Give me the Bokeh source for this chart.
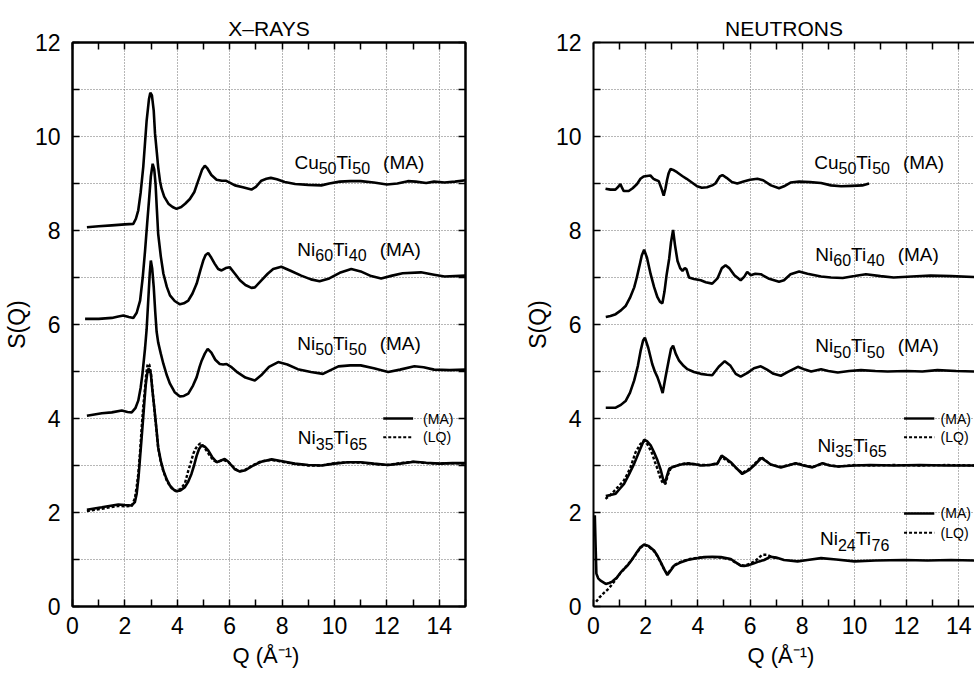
from bokeh.plotting import figure
from bokeh.layouts import row
from bokeh.models import FixedTicker, LinearAxis, Range1d
from bokeh.core.properties import value
from bokeh.embed import file_html
from bokeh.resources import INLINE

# ---------------- data (Q in 1/Angstrom, S(Q) with vertical offsets as plotted) ----------------
x_tick_labels = [0, 2, 4, 6, 8, 10, 12, 14]
x_minor = [1, 3, 5, 7, 9, 11, 13, 15]
y_tick_labels = [0, 2, 4, 6, 8, 10, 12]
y_minor = [1, 3, 5, 7, 9, 11]

xray_cu50ti50_ma = [(0.55,8.07),(1.0,8.09),(1.5,8.11),(2.0,8.13),(2.32,8.14),(2.42,8.25),(2.51,8.43),(2.6,8.8),(2.7,9.35),(2.83,10.34),(2.92,10.8),(2.97,10.93),(3.03,10.88),(3.1,10.55),(3.15,10.06),(3.22,9.65),(3.27,9.35),(3.34,9.05),(3.4,8.89),(3.5,8.72),(3.66,8.57),(3.82,8.5),(3.97,8.46),(4.15,8.5),(4.3,8.57),(4.48,8.67),(4.65,8.82),(4.8,9.06),(4.95,9.3),(5.05,9.38),(5.15,9.32),(5.3,9.18),(5.5,9.08),(5.7,9.06),(5.85,9.06),(6.0,9.02),(6.2,8.96),(6.5,8.92),(6.83,8.87),(7.0,8.93),(7.21,9.06),(7.4,9.1),(7.57,9.12),(7.8,9.09),(8.1,9.03),(8.5,8.99),(9.0,8.97),(9.5,8.96),(9.8,9.0),(10.2,9.04),(10.6,9.05),(11.0,9.05),(11.5,9.02),(12.0,8.98),(12.4,9.0),(12.8,9.05),(13.1,9.04),(13.5,9.01),(13.8,9.04),(14.2,9.02),(14.6,9.04),(15.0,9.07)]

xray_ni60ti40_ma = [(0.48,6.12),(1.0,6.12),(1.5,6.14),(1.75,6.17),(1.94,6.19),(2.15,6.16),(2.32,6.14),(2.45,6.25),(2.58,6.51),(2.68,7.0),(2.77,7.57),(2.85,8.15),(2.92,8.64),(2.99,9.15),(3.06,9.42),(3.12,9.3),(3.17,8.99),(3.22,8.45),(3.27,7.93),(3.37,7.45),(3.47,7.08),(3.6,6.8),(3.72,6.62),(3.9,6.5),(4.1,6.43),(4.25,6.45),(4.42,6.51),(4.58,6.66),(4.74,6.87),(4.88,7.15),(4.99,7.36),(5.08,7.48),(5.18,7.52),(5.3,7.42),(5.43,7.29),(5.56,7.18),(5.69,7.15),(5.85,7.2),(6.0,7.22),(6.2,7.08),(6.39,6.94),(6.6,6.84),(6.83,6.78),(6.96,6.79),(7.21,6.94),(7.45,7.08),(7.66,7.18),(7.97,7.23),(8.3,7.15),(8.73,7.04),(9.1,6.96),(9.43,6.92),(9.8,6.98),(10.2,7.1),(10.64,7.18),(11.0,7.13),(11.4,7.03),(11.78,6.98),(12.2,7.04),(12.6,7.09),(13.3,7.11),(13.8,7.06),(14.2,7.02),(14.6,7.03),(15.0,7.04)]

xray_ni50ti50_ma = [(0.55,4.06),(1.12,4.11),(1.5,4.13),(1.88,4.17),(2.1,4.14),(2.26,4.13),(2.4,4.22),(2.51,4.38),(2.6,4.65),(2.67,4.95),(2.77,5.5),(2.83,5.9),(2.9,6.6),(2.95,7.1),(2.99,7.36),(3.04,7.2),(3.1,6.8),(3.16,6.25),(3.21,5.85),(3.27,5.62),(3.37,5.38),(3.47,5.16),(3.6,4.92),(3.72,4.74),(3.9,4.56),(4.1,4.47),(4.25,4.48),(4.42,4.53),(4.6,4.7),(4.74,4.88),(4.85,5.1),(4.93,5.23),(5.05,5.38),(5.16,5.48),(5.3,5.4),(5.45,5.25),(5.62,5.16),(5.75,5.15),(5.88,5.16),(6.05,5.1),(6.3,4.98),(6.6,4.87),(6.96,4.81),(7.2,4.92),(7.5,5.1),(7.85,5.2),(8.2,5.15),(8.6,5.05),(9.1,4.99),(9.56,4.95),(9.85,5.03),(10.15,5.11),(10.6,5.13),(11.0,5.13),(11.5,5.07),(12.05,4.99),(12.5,5.04),(13.05,5.11),(13.4,5.09),(13.8,5.04),(14.4,5.03),(15.0,5.04)]

xray_ni35ti65_ma = [(0.55,2.06),(1.12,2.11),(1.75,2.17),(2.0,2.16),(2.26,2.15),(2.38,2.22),(2.45,2.40),(2.52,2.75),(2.58,3.18),(2.64,3.6),(2.7,4.03),(2.75,4.4),(2.8,4.74),(2.85,4.95),(2.9,5.06),(2.95,5.03),(2.99,4.95),(3.05,4.6),(3.12,4.24),(3.2,3.8),(3.27,3.39),(3.37,3.1),(3.47,2.89),(3.6,2.7),(3.72,2.57),(3.85,2.49),(3.97,2.45),(4.12,2.47),(4.29,2.54),(4.42,2.66),(4.54,2.82),(4.64,3.0),(4.74,3.21),(4.83,3.35),(4.93,3.43),(5.05,3.4),(5.18,3.32),(5.33,3.18),(5.5,3.07),(5.65,3.1),(5.81,3.14),(5.95,3.08),(6.07,3.0),(6.2,2.92),(6.39,2.87),(6.6,2.9),(6.9,3.0),(7.2,3.08),(7.6,3.13),(8.0,3.09),(8.48,3.04),(9.0,3.01),(9.5,3.0),(10.0,3.04),(10.5,3.07),(11.0,3.07),(11.5,3.04),(12.05,3.01),(12.5,3.04),(13.05,3.08),(13.5,3.06),(14.0,3.04),(14.5,3.05),(15.0,3.05)]

xray_ni35ti65_lq = [(0.55,2.03),(1.12,2.08),(1.75,2.14),(2.0,2.13),(2.26,2.14),(2.38,2.3),(2.45,2.55),(2.51,2.82),(2.58,3.3),(2.64,3.81),(2.7,4.25),(2.77,4.67),(2.82,4.98),(2.87,5.16),(2.93,5.15),(2.99,4.98),(3.05,4.62),(3.12,4.22),(3.2,3.78),(3.27,3.38),(3.37,3.08),(3.47,2.87),(3.6,2.68),(3.72,2.56),(3.85,2.48),(3.97,2.46),(4.12,2.5),(4.29,2.62),(4.42,2.89),(4.52,3.07),(4.61,3.25),(4.7,3.36),(4.79,3.43),(4.88,3.47),(4.98,3.42),(5.1,3.33),(5.25,3.2),(5.4,3.1),(5.55,3.08),(5.75,3.12),(5.95,3.07),(6.1,2.99),(6.25,2.91),(6.4,2.88),(6.6,2.91),(6.9,3.01),(7.2,3.09),(7.6,3.12),(8.0,3.08),(8.5,3.03),(9.0,3.0),(9.5,3.0),(10.0,3.05),(10.5,3.07),(11.0,3.06),(11.5,3.03),(12.0,3.01),(12.5,3.05),(13.0,3.08),(13.5,3.05),(14.0,3.04),(14.5,3.05),(15.0,3.04)]

neut_cu50ti50_ma = [(0.46,8.89),(0.65,8.87),(0.84,8.87),(0.95,8.93),(1.03,8.99),(1.1,8.9),(1.16,8.84),(1.35,8.84),(1.5,8.9),(1.67,8.99),(1.8,9.1),(1.92,9.15),(2.05,9.16),(2.18,9.17),(2.3,9.1),(2.37,9.08),(2.5,9.05),(2.6,8.9),(2.69,8.74),(2.76,8.9),(2.82,9.08),(2.88,9.22),(2.95,9.31),(3.05,9.29),(3.2,9.24),(3.4,9.16),(3.57,9.1),(3.77,9.02),(3.97,8.94),(4.15,8.91),(4.35,8.92),(4.55,8.96),(4.67,9.0),(4.84,9.15),(4.94,9.18),(5.1,9.12),(5.3,9.03),(5.51,9.0),(5.75,9.04),(6.0,9.08),(6.28,9.1),(6.5,9.07),(6.8,8.96),(7.11,8.9),(7.3,8.94),(7.55,9.02),(7.88,9.04),(8.3,9.03),(8.72,9.01),(9.1,8.96),(9.49,8.94),(9.9,8.95),(10.3,8.96),(10.56,9.0)]

neut_ni60ti40_ma = [(0.47,6.16),(0.65,6.18),(0.85,6.22),(1.05,6.3),(1.24,6.40),(1.4,6.57),(1.56,6.79),(1.66,7.0),(1.75,7.22),(1.85,7.47),(1.94,7.59),(2.05,7.42),(2.19,7.07),(2.32,6.8),(2.45,6.58),(2.55,6.48),(2.64,6.45),(2.72,6.7),(2.8,7.05),(2.9,7.4),(2.97,7.75),(3.05,8.01),(3.12,7.7),(3.22,7.35),(3.32,7.2),(3.41,7.14),(3.5,7.2),(3.56,7.18),(3.66,7.0),(3.85,6.97),(4.11,6.94),(4.3,6.9),(4.55,6.87),(4.75,6.98),(4.92,7.2),(5.06,7.26),(5.2,7.2),(5.4,7.05),(5.64,6.94),(5.78,7.02),(5.89,7.12),(6.02,7.05),(6.2,7.08),(6.41,7.07),(6.7,6.98),(7.11,6.91),(7.3,6.94),(7.55,7.07),(7.88,7.13),(8.2,7.08),(8.72,7.02),(9.1,7.0),(9.55,6.99),(10.0,7.03),(10.44,7.07),(11.0,7.03),(11.5,7.0),(12.2,7.02),(12.92,7.04),(13.7,7.03),(14.6,7.01)]

neut_ni50ti50_ma = [(0.47,4.23),(0.85,4.23),(1.05,4.29),(1.24,4.38),(1.4,4.55),(1.56,4.81),(1.7,5.12),(1.81,5.45),(1.9,5.66),(1.97,5.72),(2.1,5.5),(2.25,5.16),(2.35,5.0),(2.45,4.88),(2.55,4.72),(2.65,4.54),(2.75,4.85),(2.88,5.23),(2.97,5.48),(3.05,5.55),(3.15,5.38),(3.28,5.23),(3.45,5.12),(3.6,5.05),(3.85,4.99),(4.11,4.95),(4.35,4.93),(4.55,4.92),(4.8,5.1),(5.03,5.22),(5.25,5.12),(5.45,4.95),(5.64,4.89),(5.9,4.97),(6.15,5.07),(6.41,5.11),(6.65,5.04),(6.9,4.95),(7.18,4.91),(7.45,4.99),(7.83,5.10),(8.1,5.04),(8.34,5.0),(8.72,5.05),(9.0,5.01),(9.36,4.98),(9.8,5.01),(10.25,5.03),(10.8,5.01),(11.27,5.0),(12.0,5.01),(12.6,5.0),(13.18,5.03),(13.9,5.01),(14.6,5.0)]

neut_ni35ti65_ma = [(0.47,2.35),(0.65,2.37),(0.85,2.4),(1.0,2.5),(1.17,2.61),(1.35,2.8),(1.56,3.04),(1.75,3.3),(1.94,3.55),(2.05,3.52),(2.19,3.43),(2.32,3.28),(2.45,3.11),(2.58,2.9),(2.66,2.72),(2.73,2.62),(2.8,2.75),(2.9,2.93),(3.09,2.98),(3.35,3.02),(3.6,3.04),(3.85,3.03),(4.11,3.0),(4.45,3.01),(4.75,3.04),(4.91,3.21),(5.05,3.16),(5.26,3.07),(5.5,2.93),(5.7,2.82),(5.95,2.9),(6.15,3.0),(6.43,3.16),(6.6,3.1),(6.79,3.02),(7.18,2.96),(7.45,3.0),(7.75,3.05),(8.05,3.0),(8.39,2.96),(8.77,3.05),(9.05,3.0),(9.36,2.98),(10.0,3.0),(10.6,3.01),(11.5,3.0),(12.5,3.01),(13.5,3.0),(14.6,3.0)]

neut_ni35ti65_lq = [(0.46,2.29),(0.7,2.4),(0.95,2.55),(1.16,2.68),(1.3,2.82),(1.42,2.96),(1.61,3.28),(1.8,3.46),(1.98,3.53),(2.1,3.42),(2.25,3.25),(2.35,3.08),(2.45,2.93),(2.57,2.72),(2.66,2.62),(2.76,2.61),(2.85,2.8),(2.95,2.93),(3.1,2.98),(3.35,3.03),(3.6,3.05),(3.85,3.03),(4.11,3.01),(4.45,3.01),(4.75,3.05),(4.9,3.18),(5.05,3.13),(5.26,3.05),(5.5,2.93),(5.7,2.84),(5.95,2.92),(6.15,3.02),(6.43,3.18),(6.6,3.1),(6.79,3.02),(7.18,2.97),(7.5,3.01),(7.8,3.05),(8.1,3.0),(8.4,2.97),(8.8,3.04),(9.1,3.0),(9.4,2.98),(10.0,3.01),(10.6,3.0),(11.5,3.01),(12.5,3.0),(13.5,3.01),(14.6,3.0)]

neut_ni24ti76_ma = [(0.05,1.94),(0.08,1.3),(0.11,0.70),(0.18,0.6),(0.27,0.55),(0.47,0.48),(0.6,0.5),(0.72,0.53),(0.9,0.62),(1.05,0.73),(1.3,0.87),(1.45,0.98),(1.62,1.12),(1.8,1.26),(1.94,1.32),(2.1,1.29),(2.32,1.19),(2.45,1.08),(2.58,0.94),(2.7,0.8),(2.83,0.67),(2.95,0.76),(3.09,0.87),(3.3,0.93),(3.6,0.99),(3.9,1.02),(4.24,1.05),(4.55,1.06),(4.88,1.05),(5.26,1.01),(5.45,0.94),(5.64,0.87),(5.77,0.86),(5.95,0.88),(6.15,0.92),(6.35,0.96),(6.54,0.99),(6.79,1.06),(7.0,1.04),(7.3,0.99),(7.82,0.96),(8.2,0.99),(8.72,1.03),(9.3,1.0),(10.0,0.96),(10.8,0.98),(11.9,0.99),(12.8,0.98),(13.7,0.99),(14.6,0.98)]

neut_ni24ti76_lq = [(0.1,0.1),(0.24,0.2),(0.4,0.29),(0.58,0.38),(0.78,0.52),(1.03,0.71),(1.3,0.88),(1.45,0.98),(1.62,1.11),(1.8,1.25),(1.94,1.31),(2.1,1.28),(2.32,1.18),(2.45,1.07),(2.58,0.93),(2.7,0.8),(2.83,0.69),(2.95,0.78),(3.1,0.88),(3.3,0.94),(3.6,1.0),(3.9,1.03),(4.24,1.05),(4.55,1.05),(4.88,1.04),(5.26,1.0),(5.45,0.93),(5.64,0.88),(5.8,0.87),(6.0,0.91),(6.2,0.97),(6.46,1.1),(6.65,1.1),(6.8,1.06),(7.0,1.03)]

# ---------------- styling helpers ----------------
FONT = "Liberation Sans"
W = {'C': .722, 'u': .556, 'N': .722, 'i': .222, 'T': .611, ' ': .278, '(': .333, ')': .333,
     'M': .833, 'A': .667, 'L': .556, 'Q': .778}


def text_width(s, size):
    return sum(W.get(c, .556) for c in s) * size


def formula(p, x, y, parts, main=19, sub=16):
    # parts: (text, kind) with kind "n" normal, "s" subscript, "g" normal after a gap
    off = 0.0
    for txt, kind in parts:
        size = sub if kind == "s" else main
        if kind == "g":
            off += 13
        p.text(x=[x], y=[y], text=[txt], x_offset=off, y_offset=6 if kind == "s" else 0,
               text_font=value(FONT), text_font_size=f"{size}px", text_color="black",
               text_align="left", text_baseline="alphabetic")
        off += text_width(txt, size)


def curve(p, pts, dashed=False):
    qs = [a for a, b in pts]
    ss = [b for a, b in pts]
    if dashed:
        p.line(qs, ss, line_color="black", line_width=2.4, line_dash="3 2")
    else:
        p.line(qs, ss, line_color="black", line_width=2.6)


def legend_pair(p, x0, x1, y_ma, y_lq, xt):
    p.line([x0, x1], [y_ma, y_ma], line_color="black", line_width=2.4)
    p.line([x0, x1], [y_lq, y_lq], line_color="black", line_width=2, line_dash="3 2")
    for yy, t in ((y_ma, "(MA)"), (y_lq, "(LQ)")):
        p.text(x=[xt], y=[yy], text=[t], text_font=value(FONT), text_font_size="14px",
               text_align="left", text_baseline="middle", text_color="black")


def tick_only_axis(ticks_all):
    # an axis that only draws inward ticks (no labels)
    ax = LinearAxis(ticker=FixedTicker(ticks=[], minor_ticks=ticks_all))
    ax.major_label_standoff = 0
    ax.axis_line_width = 2
    ax.axis_line_color = "black"
    ax.minor_tick_in = 7
    ax.minor_tick_out = 0
    ax.minor_tick_line_width = 1.5
    ax.major_tick_in = 0
    ax.major_tick_out = 0
    return ax


def make_fig(title, xend, width, left_border, right_border, full_box):
    p = figure(width=width, height=677, x_range=Range1d(0, xend), y_range=Range1d(0, 12),
               output_backend="svg", toolbar_location=None,
               min_border_left=left_border, min_border_right=right_border,
               min_border_top=42, min_border_bottom=71)
    p.title.text = title
    p.title.align = "center"
    p.title.text_font = FONT
    p.title.text_font_size = "21px"
    p.title.text_font_style = "normal"
    p.title.text_color = "black"
    p.title.standoff = 6
    p.background_fill_color = "white"
    p.border_fill_color = "white"
    if full_box:
        p.outline_line_color = "black"
        p.outline_line_width = 2
        p.outline_line_alpha = 1
    else:
        p.outline_line_color = None

    xt = FixedTicker(ticks=x_tick_labels, minor_ticks=x_minor)
    yt = FixedTicker(ticks=y_tick_labels, minor_ticks=y_minor)
    p.xaxis.ticker = xt
    p.yaxis.ticker = yt
    for ax in (p.xaxis[0], p.yaxis[0]):
        ax.axis_line_width = 2
        ax.axis_line_color = "black"
        ax.major_tick_in = 7
        ax.major_tick_out = 0
        ax.minor_tick_in = 7
        ax.minor_tick_out = 0
        ax.major_tick_line_width = 1.5
        ax.minor_tick_line_width = 1.5
        ax.major_label_text_font = FONT
        ax.major_label_text_font_size = "23px"
        ax.major_label_text_color = "black"
        ax.axis_label_text_font = FONT
        ax.axis_label_text_font_style = "normal"
        ax.axis_label_text_color = "black"
    p.xaxis.major_label_standoff = 10
    p.yaxis.major_label_standoff = 12
    p.xaxis.axis_label = "Q  (Å\u207b\u00b9)"
    p.xaxis.axis_label_text_font_size = "22px"
    p.xaxis.axis_label_standoff = 6
    p.yaxis.axis_label = "S(Q)"
    p.yaxis.axis_label_text_font_size = "23px"
    p.yaxis.axis_label_standoff = 2

    p.add_layout(tick_only_axis(list(range(0, 16))), "above")
    if full_box:
        p.add_layout(tick_only_axis(list(range(0, 13))), "right")

    for g in (p.xgrid[0], p.ygrid[0]):
        g.grid_line_color = "#6e6e6e"
        g.grid_line_dash = "1 2"
        g.grid_line_width = 1
    p.xgrid.ticker = xt
    p.ygrid.ticker = yt
    p.ygrid.minor_grid_line_color = "#6e6e6e"
    p.ygrid.minor_grid_line_dash = "1 2"
    p.ygrid.minor_grid_line_width = 1
    return p


# ---------------- X-ray panel ----------------
p1 = make_fig("X\u2013RAYS", 15, 487, 71, 22, True)
for pts in (xray_cu50ti50_ma, xray_ni60ti40_ma, xray_ni50ti50_ma, xray_ni35ti65_ma):
    curve(p1, pts)
curve(p1, xray_ni35ti65_lq, dashed=True)

formula(p1, 8.47, 9.45, [("Cu", "n"), ("50", "s"), ("Ti", "n"), ("50", "s"), ("(MA)", "g")])
formula(p1, 8.58, 7.6, [("Ni", "n"), ("60", "s"), ("Ti", "n"), ("40", "s"), ("(MA)", "g")])
formula(p1, 8.58, 5.6, [("Ni", "n"), ("50", "s"), ("Ti", "n"), ("50", "s"), ("(MA)", "g")])
formula(p1, 8.6, 3.59, [("Ni", "n"), ("35", "s"), ("Ti", "n"), ("65", "s")])
legend_pair(p1, 11.86, 13.0, 4.0, 3.6, 13.38)

# ---------------- Neutron panel ----------------
p2 = make_fig("NEUTRONS", 14.6, 487, 106, 0, False)
for pts in (neut_cu50ti50_ma, neut_ni60ti40_ma, neut_ni50ti50_ma, neut_ni35ti65_ma, neut_ni24ti76_ma):
    curve(p2, pts)
curve(p2, neut_ni35ti65_lq, dashed=True)
curve(p2, neut_ni24ti76_lq, dashed=True)

formula(p2, 8.46, 9.45, [("Cu", "n"), ("50", "s"), ("Ti", "n"), ("50", "s"), ("(MA)", "g")])
formula(p2, 8.5, 7.5, [("Ni", "n"), ("60", "s"), ("Ti", "n"), ("40", "s"), ("(MA)", "g")])
formula(p2, 8.5, 5.55, [("Ni", "n"), ("50", "s"), ("Ti", "n"), ("50", "s"), ("(MA)", "g")])
formula(p2, 8.58, 3.43, [("Ni", "n"), ("35", "s"), ("Ti", "n"), ("65", "s")])
formula(p2, 8.68, 1.44, [("Ni", "n"), ("24", "s"), ("Ti", "n"), ("76", "s")])
legend_pair(p2, 11.9, 13.06, 4.0, 3.6, 13.3)
legend_pair(p2, 11.9, 13.06, 1.98, 1.57, 13.3)

layout = row(p1, p2)
open("out.html", "w").write(file_html(layout, INLINE))
